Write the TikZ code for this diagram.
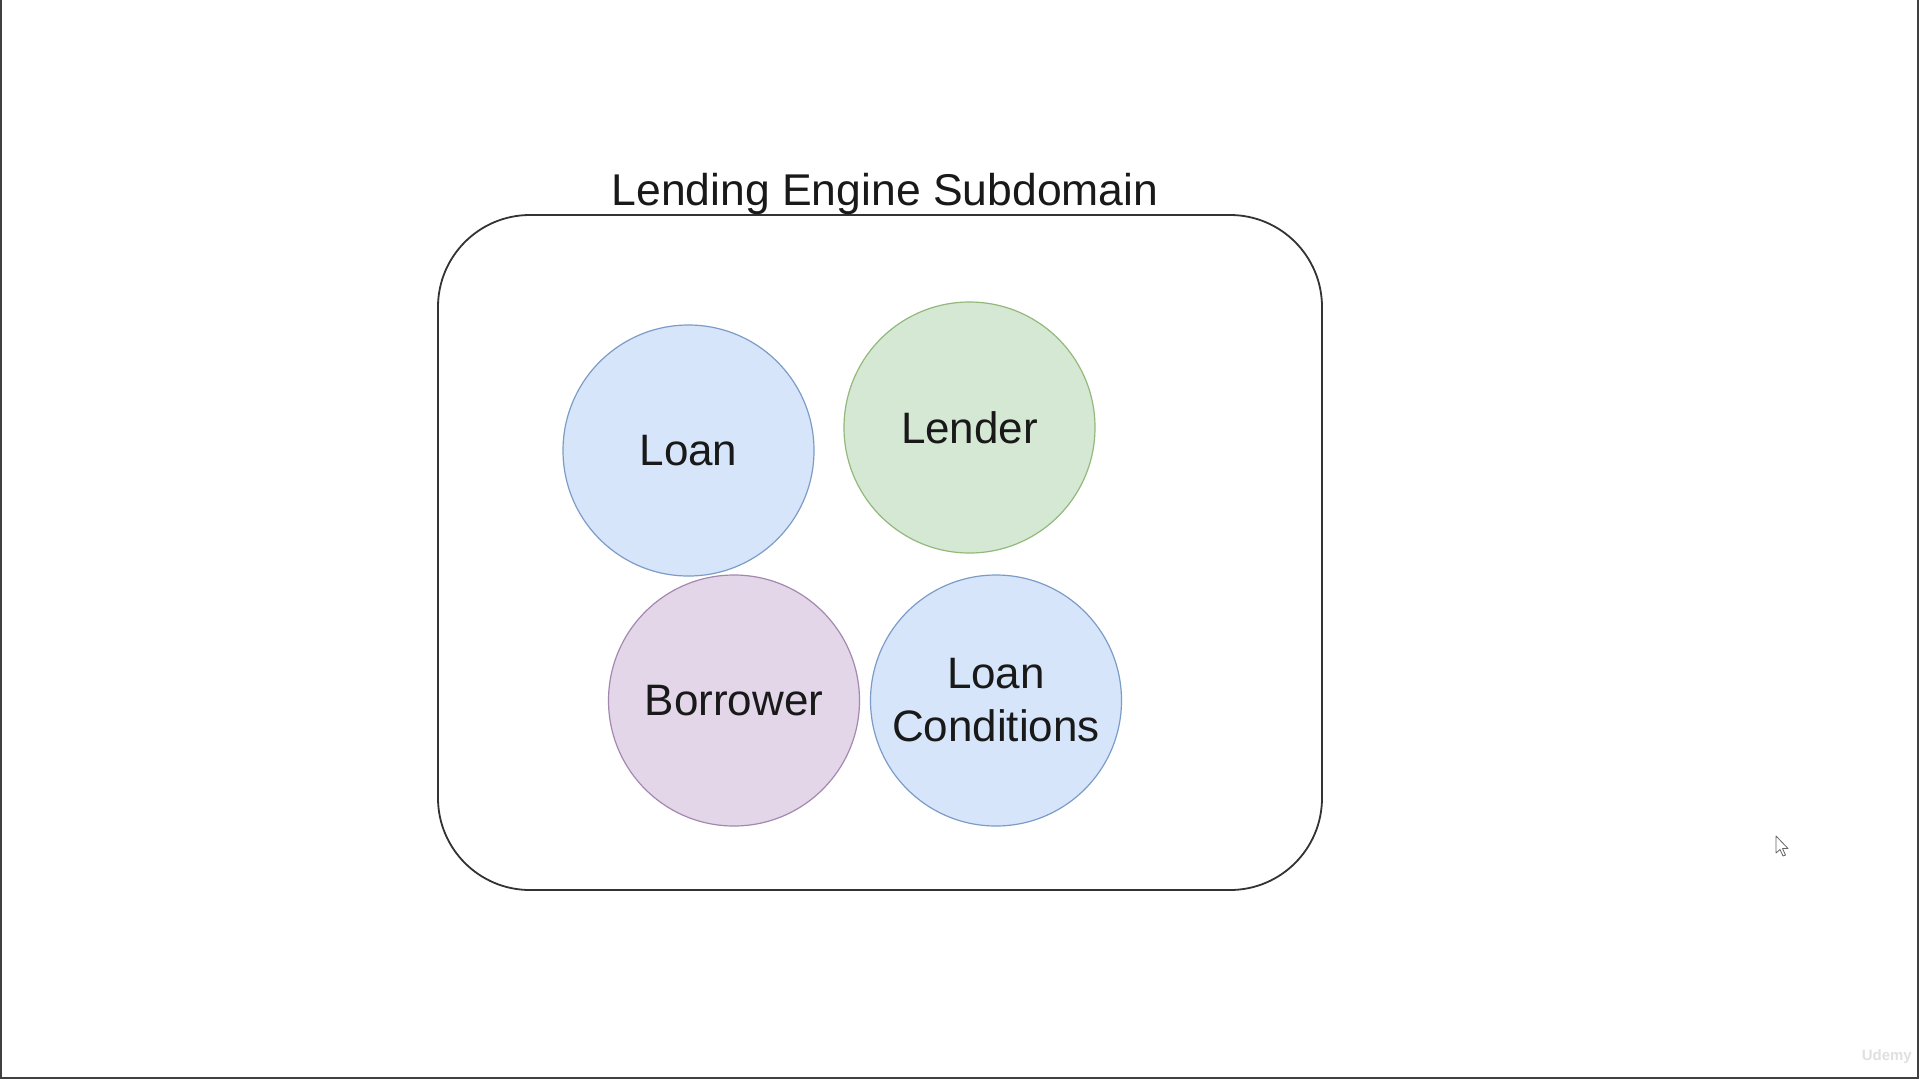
\documentclass[tikz,border=0pt]{standalone}
\usepackage{fontspec}
\setmainfont{Liberation Sans}
\begin{document}
\begin{tikzpicture}[x=1pt,y=-1pt,
  bubble/.style={circle, draw, line width=1.2pt, minimum size=251pt, inner sep=0pt,
    align=center, text=black!90, font=\fontsize{44}{53}\selectfont},
  bluebubble/.style={bubble, fill=blueF, draw=blueS},
  greenbubble/.style={bubble, fill=greenF, draw=greenS},
  purplebubble/.style={bubble, fill=purpleF, draw=purpleS},
  container/.style={draw=black!80, line width=1.8pt, rounded corners=92pt,
    minimum width=884pt, minimum height=675pt, inner sep=0pt},
  screenedge/.style={draw=black!75, line width=2pt}]
\definecolor{blueF}{HTML}{D6E5FA}
\definecolor{blueS}{HTML}{7C9CC8}
\definecolor{greenF}{HTML}{D5E8D4}
\definecolor{greenS}{HTML}{92B87A}
\definecolor{purpleF}{HTML}{E2D6E8}
\definecolor{purpleS}{HTML}{A488B0}
\useasboundingbox[fill=white] (0,0) rectangle (1920,1080);
\draw[screenedge] (1,0) -- (1,1078) -- (1918,1078) -- (1918,0);
\node[container] (box) at (880,552.5) {};
\node[anchor=base, font=\fontsize{44.5}{53}\selectfont, text=black!90, inner sep=0pt] (title) at (885,205) {Lending Engine Subdomain};
\node[bluebubble] (loan) at (688.5,450.5) {Loan};
\node[greenbubble] (lender) at (969.5,427.5) {Lender};
\node[purplebubble] (borrower) at (734,700.5) {Borrower};
\node[bluebubble] (conditions) at (996,700.5) {Loan\\Conditions};
\draw[draw=black!60, fill=white, line width=0.8pt, line join=round] (1776,836) -- (1776,853) -- (1780,849.5) -- (1783,856) -- (1785.5,855) -- (1782.5,848.5) -- (1788,848.5) -- cycle;
\node[anchor=east, font=\bfseries\fontsize{15}{18}\selectfont, text=black!12, inner sep=0pt] (wm) at (1912,1057) {Udemy};
\end{tikzpicture}
\end{document}
